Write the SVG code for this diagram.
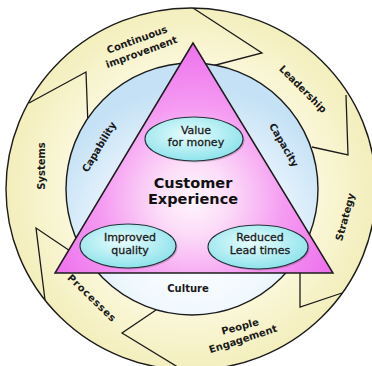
<svg xmlns="http://www.w3.org/2000/svg" width="372" height="366" viewBox="0 0 372 366">
  <defs>
    <radialGradient id="ringFill" cx="191" cy="189" r="185" gradientUnits="userSpaceOnUse">
      <stop offset="0.65" stop-color="#fbf8dc"/>
      <stop offset="1" stop-color="#f3eebb"/>
    </radialGradient>
    <radialGradient id="discFill" cx="195" cy="240" r="155" gradientUnits="userSpaceOnUse">
      <stop offset="0" stop-color="#ffffff"/>
      <stop offset="0.5" stop-color="#f0f8fe"/>
      <stop offset="1" stop-color="#c4e1f5"/>
    </radialGradient>
    <radialGradient id="triFill" cx="193" cy="198" r="165" gradientUnits="userSpaceOnUse">
      <stop offset="0" stop-color="#fff6fd"/>
      <stop offset="0.22" stop-color="#fcdcf8"/>
      <stop offset="0.55" stop-color="#f59cf2"/>
      <stop offset="1" stop-color="#ec6aec"/>
    </radialGradient>
    <radialGradient id="ovalFill" cx="0.45" cy="0.4" r="0.6">
      <stop offset="0" stop-color="#e8fdfd"/>
      <stop offset="1" stop-color="#8fe3ec"/>
    </radialGradient>
    <style>
      .edge { fill: none; stroke: #1c1c1c; stroke-width: 1.3; stroke-linejoin: miter; }
      .band { font-family: "DejaVu Sans", Verdana, sans-serif; font-weight: bold; font-size: 10px; fill: #1a1a1a; text-anchor: middle; }
      .oval { fill: url(#ovalFill); stroke: #243238; stroke-width: 1.1; }
      .shade { fill: #000; opacity: 0.18; }
      .otext { font-family: "DejaVu Sans", Verdana, sans-serif; font-size: 11px; fill: #1a1a1a; stroke: #1a1a1a; stroke-width: 0.3; text-anchor: middle; }
      .title { font-family: "DejaVu Sans", Verdana, sans-serif; font-weight: bold; font-size: 14.5px; fill: #111; text-anchor: middle; }
    </style>
  </defs>

  <!-- outer ring of six chevron segments -->
  <g id="ring">
    <ellipse cx="191" cy="189" rx="185" ry="181" fill="url(#ringFill)"/>
    <g id="segment-heads">
      <polyline class="edge" points="29,103 86,72 88,126"/>
      <polyline class="edge" points="193,8 262,53 212,66"/>
      <polyline class="edge" points="346,95 348,155 312,147"/>
      <polyline class="edge" points="342,293 300,307 300,250"/>
      <polyline class="edge" points="181,369 122,333 156,310"/>
      <polyline class="edge" points="45,300 36,228 82,259"/>
    </g>
    <ellipse cx="191" cy="189" rx="185" ry="181" fill="none" stroke="#1c1c1c" stroke-width="1.4"/>
  </g>

  <g id="seg-continuous">
    <text class="band" transform="translate(137,39.5) rotate(-20)" y="3.5">Continuous</text>
    <text class="band" transform="translate(141.5,52) rotate(-20)" y="3.5">improvement</text>
  </g>
  <g id="seg-leadership">
    <text class="band" transform="translate(303,89) rotate(45)" y="3.5">Leadership</text>
  </g>
  <g id="seg-strategy">
    <text class="band" transform="translate(345,217) rotate(-75)" y="3.5">Strategy</text>
  </g>
  <g id="seg-people">
    <text class="band" transform="translate(240,326.5) rotate(-15)" y="3.5">People</text>
    <text class="band" transform="translate(243,339) rotate(-18)" y="3.5">Engagement</text>
  </g>
  <g id="seg-processes">
    <text class="band" transform="translate(92,298) rotate(44)" y="3.5" letter-spacing="0.8">Processes</text>
  </g>
  <g id="seg-systems">
    <text class="band" transform="translate(41,166) rotate(-90)" y="3.5">Systems</text>
  </g>

  <!-- inner disc -->
  <g id="disc">
    <circle cx="192" cy="189" r="126" fill="url(#discFill)" stroke="#1c1c1c" stroke-width="1.4"/>
    <text class="band" transform="translate(99,147) rotate(-59)" y="3.5">Capability</text>
    <text class="band" transform="translate(284,145) rotate(60)" y="3.5">Capacity</text>
    <text class="band" x="188" y="292">Culture</text>
  </g>

  <!-- central triangle -->
  <g id="triangle">
    <polygon points="193,43 55,273 333,273" fill="url(#triFill)" stroke="#1c1c1c" stroke-width="1.5"/>
    <text class="title" x="193" y="188">Customer</text>
    <text class="title" x="193" y="204">Experience</text>
  </g>

  <g id="value">
    <ellipse class="shade" cx="195.5" cy="140.5" rx="49" ry="22"/>
    <ellipse class="oval" cx="194" cy="139" rx="49" ry="22"/>
    <text class="otext" x="196" y="134">Value</text>
    <text class="otext" x="196" y="146">for money</text>
  </g>
  <g id="quality">
    <ellipse class="shade" cx="129.5" cy="247.5" rx="48" ry="22"/>
    <ellipse class="oval" cx="128" cy="246" rx="48" ry="22"/>
    <text class="otext" x="130" y="241">Improved</text>
    <text class="otext" x="130" y="254">quality</text>
  </g>
  <g id="leadtimes">
    <ellipse class="shade" cx="259.5" cy="248.5" rx="50" ry="22"/>
    <ellipse class="oval" cx="258" cy="247" rx="50" ry="22"/>
    <text class="otext" x="260" y="241">Reduced</text>
    <text class="otext" x="260" y="254">Lead times</text>
  </g>
</svg>
